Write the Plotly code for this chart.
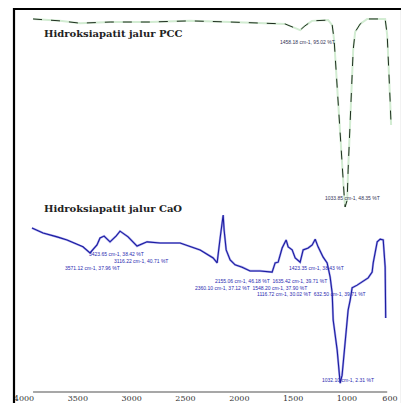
import plotly.graph_objects as go

# PCC route hydroxyapatite spectrum (wavenumber cm-1, transmittance a.u.)
pcc_wn = [3916, 3665, 3480, 3200, 2830, 2460, 2085, 1805, 1575, 1480, 1435, 1390, 1325, 1175,
          1137, 1119, 1091, 1063, 1045, 1026, 1017, 998, 989, 970, 952, 942, 924, 877, 812,
          645, 626, 608, 599, 590]
pcc_t = [97.4, 96.9, 96.3, 96.6, 96.6, 96.9, 96.6, 96.3, 96.1, 95.0, 94.5, 95.6, 96.9, 97.1,
         95.8, 91.9, 78.9, 68.4, 59.3, 51.4, 48.3, 50.1, 58.0, 71.0, 81.5, 89.3, 94.0, 96.1, 97.4,
         97.4, 93.2, 84.1, 76.2, 69.7]

# CaO route hydroxyapatite spectrum
cao_wn = [3926, 3823, 3693, 3600, 3452, 3387, 3322, 3294, 3256, 3201, 3145, 3108, 3033, 2950,
          2857, 2736, 2550, 2364, 2243, 2206, 2178, 2150, 2141, 2122, 2085, 2039, 1974, 1900,
          1807, 1695, 1667, 1639, 1602, 1565, 1546, 1509, 1481, 1435, 1407, 1360, 1323, 1295,
          1268, 1221, 1184, 1156, 1137, 1128, 1091, 1063, 1045, 1017, 989, 970, 952, 905, 859,
          803, 766, 756, 719, 691, 663, 645, 640]
cao_t = [42.8, 41.5, 40.5, 39.7, 37.9, 36.3, 38.4, 40.2, 40.7, 39.2, 40.7, 42.0, 40.5, 38.1,
         39.2, 38.9, 38.9, 37.1, 35.0, 33.7, 40.2, 46.2, 42.3, 37.1, 34.5, 33.2, 32.6, 31.6,
         31.6, 31.3, 33.7, 33.9, 37.6, 39.7, 37.9, 37.1, 35.0, 33.9, 37.1, 37.6, 38.4, 39.9,
         37.9, 35.2, 33.7, 30.0, 25.8, 18.8, 11.0, 2.3, 4.4, 13.6, 21.4, 24.0, 27.2, 27.9, 28.7,
         29.8, 31.3, 33.7, 39.2, 39.9, 39.7, 32.6, 19.3]

tick_vals = [4000, 3500, 3000, 2500, 2000, 1500, 1000, 600]
tick_text = ["4000", "3500", "3000", "2500", "2000", "1500", "1000", "600"]

titles = ["Hidroksiapatit jalur PCC", "Hidroksiapatit jalur CaO"]

# peak labels: (left wavenumber, transmittance, text)
peak_x = [1640, 1221, 3414, 3182, 3638, 1556, 2243, 2429, 1853, 1249]
peak_y = [91.4, 50.7, 36.0, 34.2, 32.4, 32.4, 29.0, 27.2, 25.6, 3.1]
peak_txt = ["1458.18 cm-1, 95.02 %T", "1033.85 cm-1, 48.35 %T",
            "3423.65 cm-1, 38.42 %T", "3116.22 cm-1, 40.71 %T", "3571.12 cm-1, 37.96 %T",
            "1423.35 cm-1, 38.43 %T", "2155.06 cm-1, 46.18 %T  1635.42 cm-1, 39.71 %T",
            "2360.10 cm-1, 37.12 %T  1548.20 cm-1, 37.90 %T",
            "1116.72 cm-1, 30.02 %T  632.50 cm-1, 39.71 %T", "1032.10 cm-1, 2.31 %T"]
peak_col = ["#333355", "#333355"] + ["#2a2ab0"] * 8

fig = go.Figure()
fig.add_trace(go.Scatter(x=pcc_wn, y=pcc_t, mode="lines",
                         line=dict(color="#d2ecd2", width=2.0), hoverinfo="skip"))
fig.add_trace(go.Scatter(x=pcc_wn, y=pcc_t, mode="lines",
                         line=dict(color="#1e2e1e", width=1.0, dash="dash")))
fig.add_trace(go.Scatter(x=cao_wn, y=cao_t, mode="lines",
                         line=dict(color="#a8a8ec", width=2.2), hoverinfo="skip"))
fig.add_trace(go.Scatter(x=cao_wn, y=cao_t, mode="lines",
                         line=dict(color="#1c1ca0", width=1.1)))

for x, y, t, c in zip(peak_x, peak_y, peak_txt, peak_col):
    fig.add_annotation(x=x, y=y, text=t, showarrow=False, xanchor="left",
                       font=dict(size=5, color=c, family="Liberation Sans"))

fig.add_annotation(x=3830, y=93.5, text="<b>" + titles[0] + "</b>", showarrow=False, xanchor="left",
                   font=dict(size=10, color="#222222", family="DejaVu Serif"))
fig.add_annotation(x=3830, y=47.8, text="<b>" + titles[1] + "</b>", showarrow=False, xanchor="left",
                   font=dict(size=10, color="#222222", family="DejaVu Serif"))

# outer frame
fig.add_shape(type="rect", xref="paper", yref="paper", x0=0, x1=0.995, y0=-0.2, y1=1,
              line=dict(color="black", width=2.2))
# baseline axis line
fig.add_shape(type="line", xref="x", yref="paper", x0=3916, x1=626,
              y0=0, y1=0, line=dict(color="#8a8a8a", width=1.5))

# the page body adds an 8px offset; size and margins compensate for it
fig.update_layout(
    width=401, height=395,
    margin=dict(l=6, r=5, t=1, b=11),
    paper_bgcolor="white", plot_bgcolor="white",
    showlegend=False,
    xaxis=dict(range=[4093, 470], tickvals=tick_vals, ticktext=tick_text,
               showgrid=False, zeroline=False, showline=False, ticks="",
               tickfont=dict(size=8, color="#333333", family="DejaVu Serif"), ticklabelstandoff=0),
    yaxis=dict(range=[0, 100], showgrid=False, zeroline=False, showline=False,
               showticklabels=False, ticks=""),
)

fig.write_html("out.html")
